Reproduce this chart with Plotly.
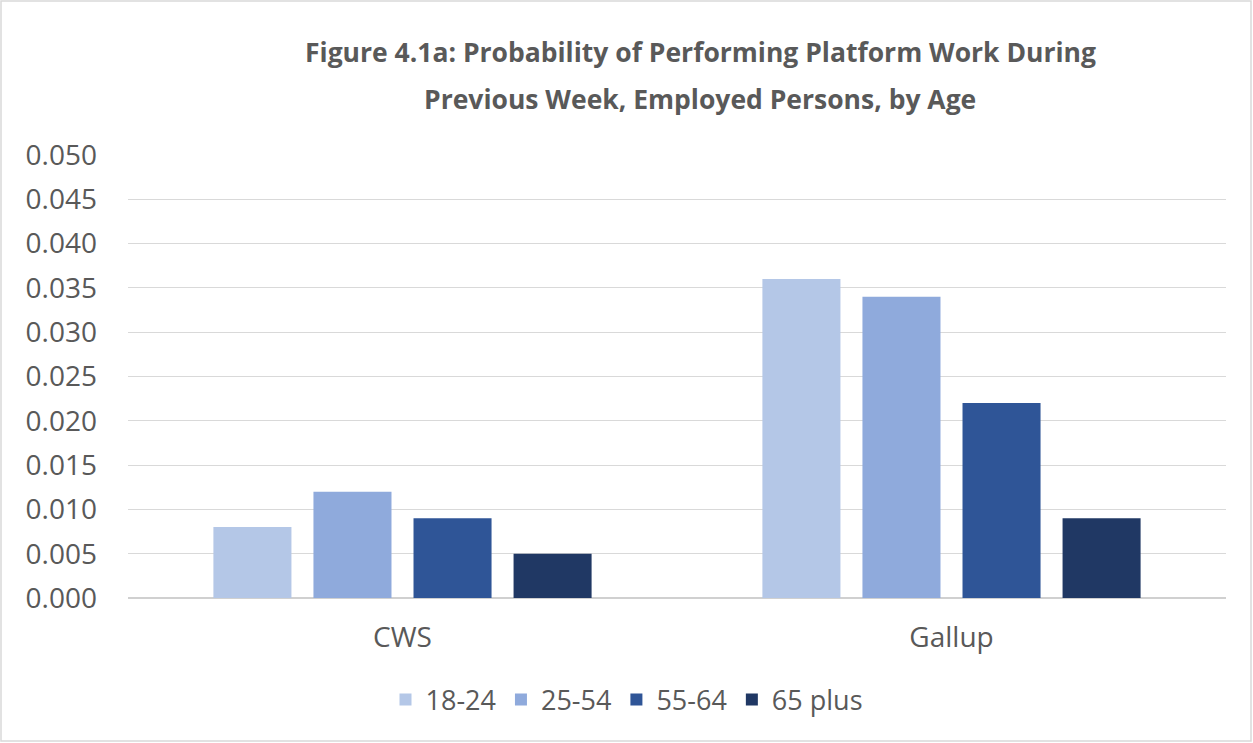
import plotly.graph_objects as go

categories = ["CWS", "Gallup"]
series_names = ["18-24", "25-54", "55-64", "65 plus"]
values_18_24 = [0.008, 0.036]
values_25_54 = [0.012, 0.034]
values_55_64 = [0.009, 0.022]
values_65_plus = [0.005, 0.009]
colors = ["#B4C7E7", "#8FAADC", "#2F5597", "#203864"]
y_ticks = [0.0, 0.005, 0.01, 0.015, 0.02, 0.025, 0.03, 0.035, 0.04, 0.045, 0.05]
title_lines = ["Figure 4.1a: Probability of Performing Platform Work During",
               "Previous Week, Employed Persons, by Age"]

W, H = 1253, 743
L, R, T, B = 128, 27, 155, 145
FONT = "'Open Sans', 'Noto Sans', sans-serif"
TXT = "#595959"

fig = go.Figure()
for name, vals, col in zip(series_names, [values_18_24, values_25_54, values_55_64, values_65_plus], colors):
    fig.add_trace(go.Bar(x=categories, y=vals, name=name, marker=dict(color=col, line=dict(width=0))))

pw = W - L - R
ph = H - T - B
fig.update_layout(
    width=W, height=H,
    margin=dict(l=L, r=R, t=T, b=B),
    paper_bgcolor="white", plot_bgcolor="white",
    barmode="group", bargap=0.271, bargroupgap=0.22,
    font=dict(family=FONT, color=TXT, size=28),
    xaxis=dict(showgrid=False, ticks="", tickfont=dict(size=28, color=TXT), showline=False),
    yaxis=dict(range=[0, 0.05], tickvals=y_ticks, tickformat=".3f", showgrid=True,
               gridcolor="#D9D9D9", gridwidth=1.3, zeroline=True, zerolinecolor="#D0D0D0",
               zerolinewidth=2, ticks="", tickfont=dict(size=28, color=TXT), ticklabelstandoff=30),
    legend=dict(orientation="h", x=(627 - L) / pw, xanchor="center", y=-(700 - 598) / ph,
                yanchor="middle", font=dict(size=27, color=TXT), traceorder="normal",
                itemwidth=30),
    showlegend=True,
)
fig.update_xaxes(ticklabelstandoff=20)
for i, (line, yc) in enumerate(zip(title_lines, [52, 99])):
    fig.add_annotation(text="<b>" + line + "</b>", xref="paper", yref="paper",
                       x=(700 - L) / pw, y=1 + (T - yc) / ph, xanchor="center", yanchor="middle",
                       showarrow=False, font=dict(family=FONT, size=26.5, color=TXT))
# chart border
fig.add_shape(type="rect", xref="paper", yref="paper",
              x0=(1 - L) / pw, x1=(W - 2 - L) / pw,
              y0=-(H - 2 - T - ph) / ph, y1=1 + (T - 1) / ph,
              line=dict(color="#D9D9D9", width=1.5), fillcolor="rgba(0,0,0,0)", layer="below")
fig.write_html("out.html", config={"displayModeBar": False})

with open("out.html", "r", encoding="utf-8") as f:
    html = f.read()
html = html.replace("<head>", "<head><style>html,body{margin:0;padding:0;overflow:hidden;}</style>", 1)
with open("out.html", "w", encoding="utf-8") as f:
    f.write(html)
